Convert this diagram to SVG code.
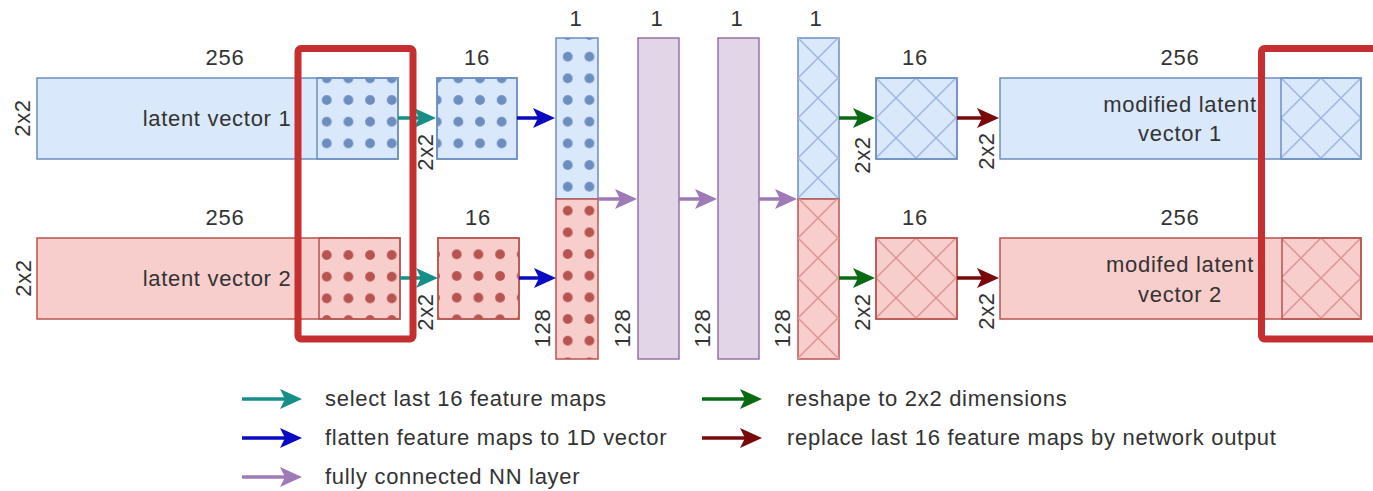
<svg xmlns="http://www.w3.org/2000/svg" width="1373" height="491" viewBox="0 0 1373 491">
  <style>
    text { font-family: "Liberation Sans", Arial, sans-serif; font-size: 22px; fill: #333; letter-spacing: 0.7px; }
    .c { text-anchor: middle; }
    .blue { fill: #dae8fc; stroke: #6c8ebf; stroke-width: 1.5; }
    .red { fill: #f8cecc; stroke: #b85450; stroke-width: 1.5; }
    .purple { fill: #e1d5e7; stroke: #9673a6; stroke-width: 1.5; }
    .ov { stroke-width: 1.5; }
    .hl { fill: none; stroke: #c62f2f; stroke-width: 7; }
    .conn line { stroke-width: 3.5; fill: none; }
  </style>
  <defs>
    <!-- dot textures for the selected feature maps -->
    <pattern id="dB1" patternUnits="userSpaceOnUse" x="315.9" y="89.2" width="21.67" height="21.67"><circle cx="10.83" cy="10.83" r="4.9" fill="#6c8ebf"/></pattern>
    <pattern id="dB2" patternUnits="userSpaceOnUse" x="447.5" y="89.2" width="21.67" height="21.67"><circle cx="10.83" cy="10.83" r="4.9" fill="#6c8ebf"/></pattern>
    <pattern id="dB3" patternUnits="userSpaceOnUse" x="556.9" y="89.2" width="21.67" height="21.67"><circle cx="10.83" cy="10.83" r="4.9" fill="#6c8ebf"/></pattern>
    <pattern id="dR1" patternUnits="userSpaceOnUse" x="315.9" y="244.2" width="21.67" height="21.67"><circle cx="10.83" cy="10.83" r="4.9" fill="#b85450"/></pattern>
    <pattern id="dR2" patternUnits="userSpaceOnUse" x="445.9" y="243.5" width="21.67" height="21.67"><circle cx="10.83" cy="10.83" r="4.9" fill="#b85450"/></pattern>
    <pattern id="dR3" patternUnits="userSpaceOnUse" x="556.9" y="243.2" width="21.67" height="21.67"><circle cx="10.83" cy="10.83" r="4.9" fill="#b85450"/></pattern>
    <!-- cross-hatch textures for the network output -->
    <pattern id="hB1" patternUnits="userSpaceOnUse" x="798" y="38" width="40" height="40"><path d="M0,0L40,40M40,0L0,40" stroke="#9fb6e0" stroke-width="1.5"/></pattern>
    <pattern id="hB2" patternUnits="userSpaceOnUse" x="876" y="78" width="40" height="40"><path d="M0,0L40,40M40,0L0,40" stroke="#9fb6e0" stroke-width="1.5"/></pattern>
    <pattern id="hB3" patternUnits="userSpaceOnUse" x="1281" y="78" width="40" height="40"><path d="M0,0L40,40M40,0L0,40" stroke="#9fb6e0" stroke-width="1.5"/></pattern>
    <pattern id="hR1" patternUnits="userSpaceOnUse" x="798" y="38" width="40" height="40"><path d="M0,0L40,40M40,0L0,40" stroke="#dd9494" stroke-width="1.5"/></pattern>
    <pattern id="hR2" patternUnits="userSpaceOnUse" x="876" y="78" width="40" height="40"><path d="M0,0L40,40M40,0L0,40" stroke="#dd9494" stroke-width="1.5"/></pattern>
    <pattern id="hR3" patternUnits="userSpaceOnUse" x="1281" y="78" width="40" height="40"><path d="M0,0L40,40M40,0L0,40" stroke="#dd9494" stroke-width="1.5"/></pattern>
    <!-- arrowheads -->
    <marker id="mTeal" viewBox="0 0 22 20" refX="9" refY="10" markerWidth="22" markerHeight="20" markerUnits="userSpaceOnUse" orient="auto"><path d="M0,0L22,10L0,20L5,10Z" fill="#168f88"/></marker>
    <marker id="mBlue" viewBox="0 0 22 20" refX="9" refY="10" markerWidth="22" markerHeight="20" markerUnits="userSpaceOnUse" orient="auto"><path d="M0,0L22,10L0,20L5,10Z" fill="#0a0ac2"/></marker>
    <marker id="mPurple" viewBox="0 0 22 20" refX="9" refY="10" markerWidth="22" markerHeight="20" markerUnits="userSpaceOnUse" orient="auto"><path d="M0,0L22,10L0,20L5,10Z" fill="#9e7ab6"/></marker>
    <marker id="mGreen" viewBox="0 0 22 20" refX="9" refY="10" markerWidth="22" markerHeight="20" markerUnits="userSpaceOnUse" orient="auto"><path d="M0,0L22,10L0,20L5,10Z" fill="#0a6a14"/></marker>
    <marker id="mDark" viewBox="0 0 22 20" refX="9" refY="10" markerWidth="22" markerHeight="20" markerUnits="userSpaceOnUse" orient="auto"><path d="M0,0L22,10L0,20L5,10Z" fill="#7a0a0a"/></marker>
  </defs>

  <rect width="1373" height="491" fill="#ffffff"/>

  <!-- input latent vectors -->
  <g id="latent1">
    <rect class="blue" x="37" y="78" width="361" height="81"/>
    <rect class="ov" x="317" y="78" width="81" height="81" fill="url(#dB1)" stroke="#6c8ebf"/>
    <text class="c" x="217" y="126">latent vector 1</text>
    <text class="c" x="225" y="65">256</text>
    <text class="c" transform="rotate(-90 22 118)" x="22" y="125.7">2x2</text>
  </g>
  <g id="latent2">
    <rect class="red" x="37" y="238" width="363" height="81"/>
    <rect class="ov" x="319" y="238" width="81" height="81" fill="url(#dR1)" stroke="#b85450"/>
    <text class="c" x="217" y="286">latent vector 2</text>
    <text class="c" x="225" y="225">256</text>
    <text class="c" transform="rotate(-90 23 278)" x="23" y="285.7">2x2</text>
  </g>

  <!-- selected last 16 feature maps -->
  <g id="sel1">
    <rect class="blue" x="437" y="78" width="80" height="81"/>
    <rect x="437" y="78" width="80" height="81" fill="url(#dB2)" stroke="#6c8ebf" stroke-width="1.5"/>
    <text class="c" x="477" y="65">16</text>
    <text class="c" transform="rotate(-90 425 152)" x="425" y="159.7">2x2</text>
  </g>
  <g id="sel2">
    <rect class="red" x="438" y="238" width="81" height="81"/>
    <rect x="438" y="238" width="81" height="81" fill="url(#dR2)" stroke="#b85450" stroke-width="1.5"/>
    <text class="c" x="478" y="225">16</text>
    <text class="c" transform="rotate(-90 425 312)" x="425" y="319.7">2x2</text>
  </g>

  <!-- flattened input vector -->
  <g id="flat">
    <rect class="blue" x="556" y="38" width="42" height="161"/>
    <rect x="556" y="38" width="42" height="161" fill="url(#dB3)"/>
    <rect class="red" x="556" y="199" width="42" height="160"/>
    <rect x="556" y="199" width="42" height="160" fill="url(#dR3)"/>
    <text class="c" x="576" y="26">1</text>
    <text class="c" transform="rotate(-90 542 328)" x="542" y="335.7">128</text>
  </g>

  <!-- hidden layers -->
  <g id="hidden1">
    <rect class="purple" x="638" y="38" width="41" height="321"/>
    <text class="c" x="657" y="26">1</text>
    <text class="c" transform="rotate(-90 622 328)" x="622" y="335.7">128</text>
  </g>
  <g id="hidden2">
    <rect class="purple" x="718" y="38" width="41" height="321"/>
    <text class="c" x="737" y="26">1</text>
    <text class="c" transform="rotate(-90 702 328)" x="702" y="335.7">128</text>
  </g>

  <!-- network output vector -->
  <g id="out">
    <rect class="blue" x="798" y="38" width="41" height="161"/>
    <rect x="798" y="38" width="41" height="161" fill="url(#hB1)"/>
    <rect class="red" x="798" y="199" width="41" height="160"/>
    <rect x="798" y="199" width="41" height="160" fill="url(#hR1)"/>
    <text class="c" x="816" y="26">1</text>
    <text class="c" transform="rotate(-90 782 328)" x="782" y="335.7">128</text>
  </g>

  <!-- reshaped outputs -->
  <g id="res1">
    <rect class="blue" x="876" y="78" width="81" height="81"/>
    <rect x="876" y="78" width="81" height="81" fill="url(#hB2)" stroke="#6c8ebf" stroke-width="1.5"/>
    <text class="c" x="915" y="65">16</text>
    <text class="c" transform="rotate(-90 862 155)" x="862" y="162.7">2x2</text>
  </g>
  <g id="res2">
    <rect class="red" x="876" y="238" width="81" height="81"/>
    <rect x="876" y="238" width="81" height="81" fill="url(#hR2)" stroke="#b85450" stroke-width="1.5"/>
    <text class="c" x="915" y="225">16</text>
    <text class="c" transform="rotate(-90 862 312)" x="862" y="319.7">2x2</text>
  </g>

  <!-- modified latent vectors -->
  <g id="mod1">
    <rect class="blue" x="1000" y="78" width="361" height="81"/>
    <rect class="ov" x="1281" y="78" width="80" height="81" fill="url(#hB3)" stroke="#6c8ebf"/>
    <text class="c" x="1180" y="112">modified latent</text>
    <text class="c" x="1180" y="141">vector 1</text>
    <text class="c" x="1180" y="65">256</text>
    <text class="c" transform="rotate(-90 986 151)" x="986" y="158.7">2x2</text>
  </g>
  <g id="mod2">
    <rect class="red" x="1000" y="238" width="361" height="81"/>
    <rect class="ov" x="1282" y="238" width="79" height="81" fill="url(#hR3)" stroke="#b85450"/>
    <text class="c" x="1180" y="272">modifed latent</text>
    <text class="c" x="1180" y="302">vector 2</text>
    <text class="c" x="1180" y="225">256</text>
    <text class="c" transform="rotate(-90 986 311)" x="986" y="318.7">2x2</text>
  </g>

  <!-- connectors -->
  <g id="connectors" class="conn">
    <line x1="398" y1="118" x2="423" y2="118" stroke="#168f88" marker-end="url(#mTeal)"/>
    <line x1="400" y1="278" x2="425" y2="278" stroke="#168f88" marker-end="url(#mTeal)"/>
    <line x1="517" y1="118" x2="542" y2="118" stroke="#0a0ac2" marker-end="url(#mBlue)"/>
    <line x1="519" y1="278" x2="543" y2="278" stroke="#0a0ac2" marker-end="url(#mBlue)"/>
    <line x1="598" y1="199" x2="624" y2="199" stroke="#9e7ab6" marker-end="url(#mPurple)"/>
    <line x1="679" y1="199" x2="704" y2="199" stroke="#9e7ab6" marker-end="url(#mPurple)"/>
    <line x1="759" y1="199" x2="784" y2="199" stroke="#9e7ab6" marker-end="url(#mPurple)"/>
    <line x1="839" y1="118" x2="862" y2="118" stroke="#0a6a14" marker-end="url(#mGreen)"/>
    <line x1="839" y1="278" x2="862" y2="278" stroke="#0a6a14" marker-end="url(#mGreen)"/>
    <line x1="957" y1="118" x2="986" y2="118" stroke="#7a0a0a" marker-end="url(#mDark)"/>
    <line x1="957" y1="278" x2="986" y2="278" stroke="#7a0a0a" marker-end="url(#mDark)"/>
  </g>

  <!-- highlight of the replaced feature maps -->
  <g id="highlights">
    <rect class="hl" x="298" y="48.5" width="115" height="290.5" rx="3"/>
    <rect class="hl" x="1261.5" y="48.5" width="150" height="290.5" rx="3"/>
  </g>

  <!-- legend -->
  <g id="legend" class="conn">
    <line x1="242" y1="399" x2="289" y2="399" stroke="#168f88" marker-end="url(#mTeal)"/>
    <line x1="242" y1="438" x2="289" y2="438" stroke="#0a0ac2" marker-end="url(#mBlue)"/>
    <line x1="242" y1="477" x2="289" y2="477" stroke="#9e7ab6" marker-end="url(#mPurple)"/>
    <line x1="702" y1="399" x2="749" y2="399" stroke="#0a6a14" marker-end="url(#mGreen)"/>
    <line x1="702" y1="438" x2="749" y2="438" stroke="#7a0a0a" marker-end="url(#mDark)"/>
    <text x="325" y="406">select last 16 feature maps</text>
    <text x="325" y="445">flatten feature maps to 1D vector</text>
    <text x="325" y="484">fully connected NN layer</text>
    <text x="787" y="406">reshape to 2x2 dimensions</text>
    <text x="787" y="445">replace last 16 feature maps by network output</text>
  </g>
</svg>
